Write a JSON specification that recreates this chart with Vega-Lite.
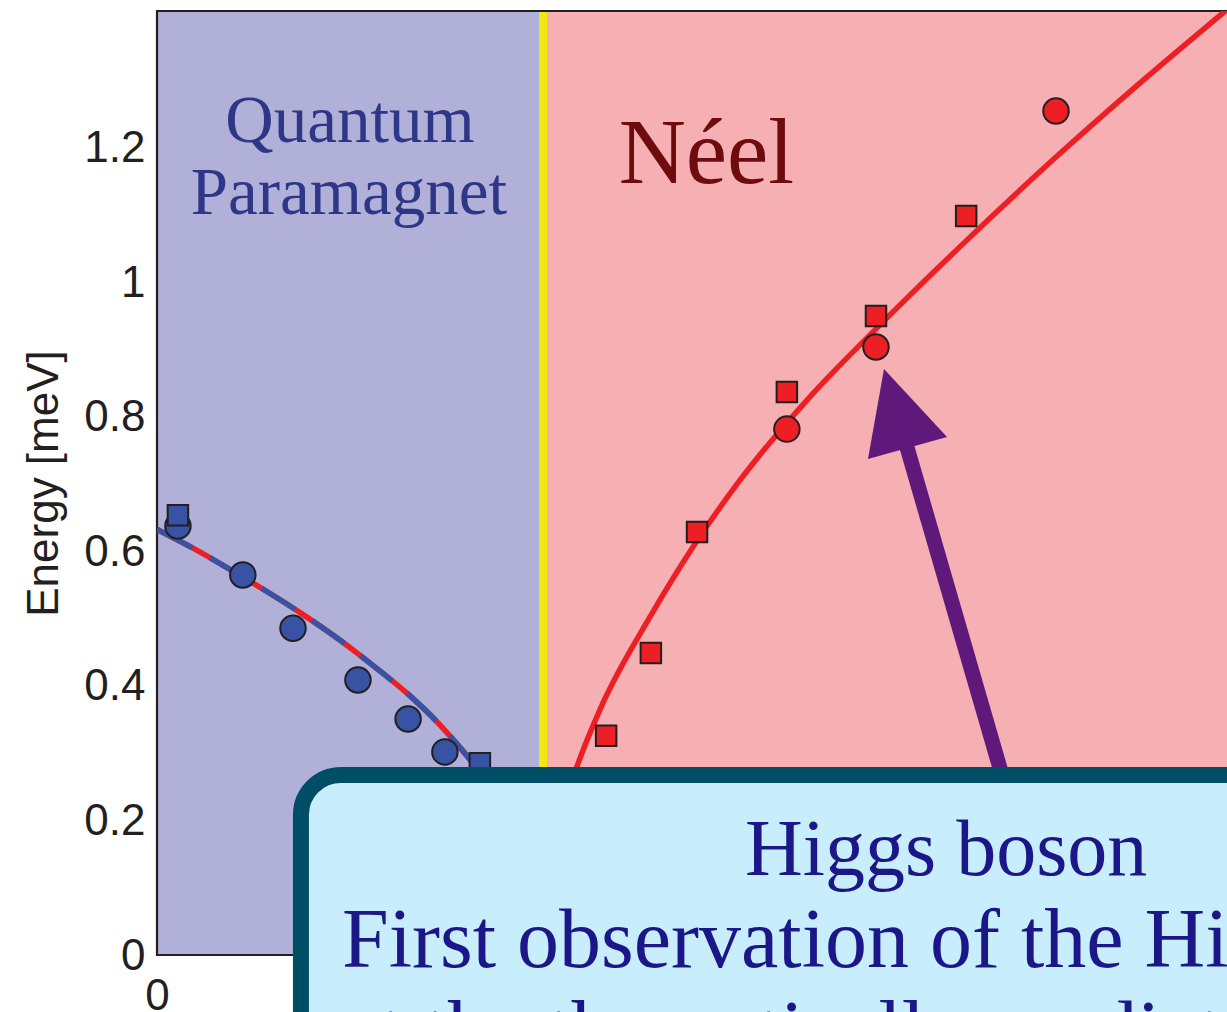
{
  "$schema": "https://vega.github.io/schema/vega-lite/v6.json",
  "width": 1070,
  "height": 944,
  "autosize": {"type": "none"},
  "padding": {"left": 157, "top": 11, "right": 0, "bottom": 57},
  "background": "white",
  "config": {
    "view": {"stroke": null},
    "axis": {
      "grid": false,
      "domain": false,
      "ticks": false,
      "tickSize": 0,
      "labelFlush": false,
      "labelFont": "Liberation Sans",
      "labelFontSize": 44,
      "labelColor": "#231f20",
      "titleFont": "Liberation Sans",
      "titleFontSize": 44,
      "titleFontWeight": "normal",
      "titleColor": "#231f20"
    }
  },
  "datasets": {
    "measurements": [
      {"pressure": 0.058, "energy": 0.638, "phase": "paramagnet", "series": "A"},
      {"pressure": 0.238, "energy": 0.565, "phase": "paramagnet", "series": "A"},
      {"pressure": 0.377, "energy": 0.486, "phase": "paramagnet", "series": "A"},
      {"pressure": 0.557, "energy": 0.409, "phase": "paramagnet", "series": "A"},
      {"pressure": 0.696, "energy": 0.351, "phase": "paramagnet", "series": "A"},
      {"pressure": 0.798, "energy": 0.302, "phase": "paramagnet", "series": "A"},
      {"pressure": 0.058, "energy": 0.654, "phase": "paramagnet", "series": "B"},
      {"pressure": 0.895, "energy": 0.285, "phase": "paramagnet", "series": "B"},
      {"pressure": 1.245, "energy": 0.326, "phase": "neel", "series": "B"},
      {"pressure": 1.369, "energy": 0.449, "phase": "neel", "series": "B"},
      {"pressure": 1.497, "energy": 0.629, "phase": "neel", "series": "B"},
      {"pressure": 1.746, "energy": 0.837, "phase": "neel", "series": "B"},
      {"pressure": 1.993, "energy": 0.95, "phase": "neel", "series": "B"},
      {"pressure": 2.243, "energy": 1.099, "phase": "neel", "series": "B"},
      {"pressure": 1.746, "energy": 0.782, "phase": "neel", "series": "A"},
      {"pressure": 1.993, "energy": 0.904, "phase": "neel", "series": "A"},
      {"pressure": 2.492, "energy": 1.255, "phase": "neel", "series": "A"}
    ],
    "gapFit": [
      {"pressure": 0.0, "energy": 0.633},
      {"pressure": 0.1, "energy": 0.605},
      {"pressure": 0.2, "energy": 0.574},
      {"pressure": 0.3, "energy": 0.542},
      {"pressure": 0.4, "energy": 0.508},
      {"pressure": 0.5, "energy": 0.471},
      {"pressure": 0.6, "energy": 0.43},
      {"pressure": 0.7, "energy": 0.386},
      {"pressure": 0.8, "energy": 0.333},
      {"pressure": 0.9, "energy": 0.267},
      {"pressure": 1.0, "energy": 0.176},
      {"pressure": 1.07, "energy": 0.0}
    ],
    "higgsFit": [
      {"pressure": 1.07, "energy": 0.0},
      {"pressure": 1.09, "energy": 0.135},
      {"pressure": 1.12, "energy": 0.205},
      {"pressure": 1.164, "energy": 0.28},
      {"pressure": 1.228, "energy": 0.365},
      {"pressure": 1.367, "energy": 0.503},
      {"pressure": 1.486, "energy": 0.607},
      {"pressure": 1.616, "energy": 0.706},
      {"pressure": 1.81, "energy": 0.83},
      {"pressure": 1.993, "energy": 0.931},
      {"pressure": 2.245, "energy": 1.063},
      {"pressure": 2.495, "energy": 1.188},
      {"pressure": 2.706, "energy": 1.288},
      {"pressure": 2.955, "energy": 1.401},
      {"pressure": 3.1, "energy": 1.466}
    ]
  },
  "layer": [
    {
      "data": {"values": [{}]},
      "mark": {"type": "rect", "color": "#b1b0d8"},
      "encoding": {
        "x": {"datum": 0, "type": "quantitative"},
        "x2": {"datum": 1.07},
        "y": {"datum": 0, "type": "quantitative"},
        "y2": {"datum": 1.4037}
      }
    },
    {
      "data": {"values": [{}]},
      "mark": {"type": "rect", "color": "#f6b0b3"},
      "encoding": {
        "x": {"datum": 1.07, "type": "quantitative"},
        "x2": {"datum": 3.4},
        "y": {"datum": 0, "type": "quantitative"},
        "y2": {"datum": 1.4037}
      }
    },
    {
      "data": {"values": [{}]},
      "mark": {"type": "rule", "color": "#efe813", "strokeWidth": 8},
      "encoding": {
        "x": {"datum": 1.07, "type": "quantitative"},
        "y": {"datum": 0, "type": "quantitative"},
        "y2": {"datum": 1.4037}
      }
    },
    {
      "data": {"values": [{}]},
      "mark": {"type": "rect", "fill": null, "fillOpacity": 0, "stroke": "#231f20", "strokeWidth": 2.2},
      "encoding": {
        "x": {"datum": 0, "type": "quantitative"},
        "x2": {"datum": 3.4},
        "y": {"datum": 0, "type": "quantitative"},
        "y2": {"datum": 1.4037}
      }
    },
    {
      "data": {"name": "gapFit"},
      "mark": {"type": "line", "color": "#ee1f24", "strokeWidth": 5.5, "interpolate": "monotone", "clip": true},
      "encoding": {
        "x": {"field": "pressure", "type": "quantitative"},
        "y": {"field": "energy", "type": "quantitative"}
      }
    },
    {
      "data": {"name": "gapFit"},
      "mark": {"type": "line", "color": "#3953a4", "strokeWidth": 5.5, "strokeDash": [40, 20], "interpolate": "monotone", "clip": true},
      "encoding": {
        "x": {"field": "pressure", "type": "quantitative"},
        "y": {"field": "energy", "type": "quantitative"}
      }
    },
    {
      "data": {"name": "higgsFit"},
      "mark": {"type": "line", "color": "#ee1f24", "strokeWidth": 5.5, "interpolate": "monotone", "clip": true},
      "encoding": {
        "x": {"field": "pressure", "type": "quantitative"},
        "y": {"field": "energy", "type": "quantitative"}
      }
    },
    {
      "data": {"name": "measurements"},
      "transform": [{"filter": "datum.series === 'A'"}],
      "mark": {"type": "point", "shape": "circle", "filled": true, "size": 650, "opacity": 1, "stroke": "#231f20", "strokeWidth": 2},
      "encoding": {
        "x": {
          "field": "pressure",
          "type": "quantitative",
          "scale": {"domain": [0, 2.966], "nice": false, "zero": false},
          "axis": {"values": [0], "format": "~g", "labelPadding": 19, "title": null}
        },
        "y": {
          "field": "energy",
          "type": "quantitative",
          "scale": {"domain": [0, 1.4037], "nice": false, "zero": false},
          "axis": {
            "values": [0, 0.2, 0.4, 0.6, 0.8, 1, 1.2],
            "format": "~g",
            "labelPadding": 12,
            "labelOffset": 1,
            "title": "Energy [meV]",
            "titlePadding": 17
          }
        },
        "color": {
          "field": "phase",
          "type": "nominal",
          "scale": {"domain": ["paramagnet", "neel"], "range": ["#3953a4", "#ee1f24"]},
          "legend": null
        }
      }
    },
    {
      "data": {"name": "measurements"},
      "transform": [{"filter": "datum.series === 'B'"}],
      "mark": {"type": "point", "shape": "square", "filled": true, "size": 420, "opacity": 1, "stroke": "#231f20", "strokeWidth": 2},
      "encoding": {
        "x": {"field": "pressure", "type": "quantitative"},
        "y": {"field": "energy", "type": "quantitative"},
        "color": {
          "field": "phase",
          "type": "nominal",
          "scale": {"domain": ["paramagnet", "neel"], "range": ["#3953a4", "#ee1f24"]},
          "legend": null
        }
      }
    },
    {
      "data": {"values": [{}]},
      "mark": {"type": "rule", "color": "#5f197a", "strokeWidth": 15, "strokeCap": "butt"},
      "encoding": {
        "x": {"datum": 2.3784, "type": "quantitative"},
        "y": {"datum": 0.2007, "type": "quantitative"},
        "x2": {"datum": 2.0478},
        "y2": {"datum": 0.8126}
      }
    },
    {
      "data": {"values": [{}]},
      "mark": {
        "type": "point",
        "shape": "M-0.226,-0.760L-0.534,0.971L0.986,0.548Z",
        "filled": true,
        "size": 10816,
        "opacity": 1,
        "color": "#5f197a",
        "strokeWidth": 0
      },
      "encoding": {
        "x": {"datum": 2.0478, "type": "quantitative"},
        "y": {"datum": 0.8126, "type": "quantitative"}
      }
    },
    {
      "data": {"values": [{}]},
      "mark": {"type": "rect", "fill": "#c8eefd", "stroke": "#004e66", "strokeWidth": 16, "cornerRadius": 40},
      "encoding": {
        "x": {"datum": 0.399, "type": "quantitative"},
        "x2": {"datum": 3.5},
        "y": {"datum": 0.2677, "type": "quantitative"},
        "y2": {"datum": -0.4}
      }
    },
    {
      "data": {"values": [{}]},
      "mark": {"type": "text", "text": "Quantum", "font": "Liberation Serif", "fontSize": 67, "color": "#2e3687", "align": "center", "baseline": "alphabetic"},
      "encoding": {
        "x": {"datum": 0.535, "type": "quantitative"},
        "y": {"datum": 1.209, "type": "quantitative"}
      }
    },
    {
      "data": {"values": [{}]},
      "mark": {"type": "text", "text": "Paramagnet", "font": "Liberation Serif", "fontSize": 67, "color": "#2e3687", "align": "center", "baseline": "alphabetic"},
      "encoding": {
        "x": {"datum": 0.532, "type": "quantitative"},
        "y": {"datum": 1.102, "type": "quantitative"}
      }
    },
    {
      "data": {"values": [{}]},
      "mark": {"type": "text", "text": "Néel", "font": "Liberation Serif", "fontSize": 93, "color": "#6d0b0e", "align": "center", "baseline": "alphabetic"},
      "encoding": {
        "x": {"datum": 1.523, "type": "quantitative"},
        "y": {"datum": 1.148, "type": "quantitative"}
      }
    },
    {
      "data": {"values": [{}]},
      "mark": {"type": "text", "text": "Higgs boson", "font": "Liberation Serif", "fontSize": 80, "color": "#1b1789", "align": "left", "baseline": "alphabetic"},
      "encoding": {
        "x": {"datum": 1.63, "type": "quantitative"},
        "y": {"datum": 0.119, "type": "quantitative"}
      }
    },
    {
      "data": {"values": [{}]},
      "mark": {"type": "text", "text": "First observation of the Higgs mode", "font": "Liberation Serif", "fontSize": 84, "color": "#1b1789", "align": "left", "baseline": "alphabetic"},
      "encoding": {
        "x": {"datum": 0.513, "type": "quantitative"},
        "y": {"datum": -0.0178, "type": "quantitative"}
      }
    },
    {
      "data": {"values": [{}]},
      "mark": {"type": "text", "text": "at the theoretically predicted energy", "font": "Liberation Serif", "fontSize": 84, "color": "#1b1789", "align": "left", "baseline": "alphabetic"},
      "encoding": {
        "x": {"datum": 0.513, "type": "quantitative"},
        "y": {"datum": -0.155, "type": "quantitative"}
      }
    }
  ]
}
